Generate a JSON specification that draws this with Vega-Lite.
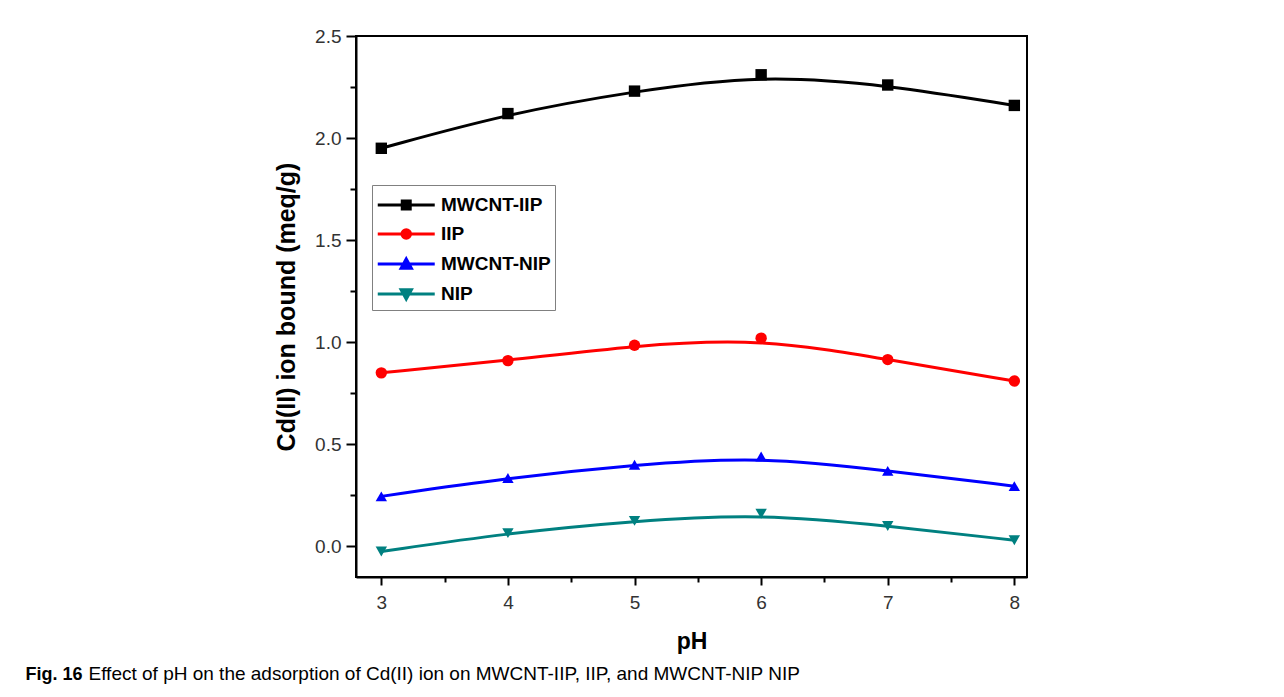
{
  "$schema": "https://vega.github.io/schema/vega-lite/v6.json",
  "autosize": "none",
  "width": 671,
  "height": 541,
  "padding": {"left": 356, "top": 36, "right": 257, "bottom": 120},
  "background": "white",
  "config": {
    "view": {"stroke": "black", "strokeWidth": 2},
    "axis": {
      "labelFont": "Liberation Sans",
      "labelFontSize": 19,
      "labelColor": "#333333",
      "titleFont": "Liberation Sans",
      "titleFontWeight": "bold",
      "titleColor": "black",
      "domainColor": "black",
      "domainWidth": 2,
      "tickColor": "black",
      "tickWidth": 2,
      "grid": false
    }
  },
  "data": {
    "values": [
      {"pH": 3, "value": 1.95, "series": "MWCNT-IIP"},
      {"pH": 4, "value": 2.12, "series": "MWCNT-IIP"},
      {"pH": 5, "value": 2.23, "series": "MWCNT-IIP"},
      {"pH": 6, "value": 2.31, "series": "MWCNT-IIP"},
      {"pH": 7, "value": 2.26, "series": "MWCNT-IIP"},
      {"pH": 8, "value": 2.16, "series": "MWCNT-IIP"},
      {"pH": 3, "value": 0.85, "series": "IIP"},
      {"pH": 4, "value": 0.91, "series": "IIP"},
      {"pH": 5, "value": 0.985, "series": "IIP"},
      {"pH": 6, "value": 1.02, "series": "IIP"},
      {"pH": 7, "value": 0.915, "series": "IIP"},
      {"pH": 8, "value": 0.81, "series": "IIP"},
      {"pH": 3, "value": 0.245, "series": "MWCNT-NIP"},
      {"pH": 4, "value": 0.335, "series": "MWCNT-NIP"},
      {"pH": 5, "value": 0.40, "series": "MWCNT-NIP"},
      {"pH": 6, "value": 0.44, "series": "MWCNT-NIP"},
      {"pH": 7, "value": 0.37, "series": "MWCNT-NIP"},
      {"pH": 8, "value": 0.295, "series": "MWCNT-NIP"},
      {"pH": 3, "value": -0.025, "series": "NIP"},
      {"pH": 4, "value": 0.065, "series": "NIP"},
      {"pH": 5, "value": 0.125, "series": "NIP"},
      {"pH": 6, "value": 0.16, "series": "NIP"},
      {"pH": 7, "value": 0.10, "series": "NIP"},
      {"pH": 8, "value": 0.03, "series": "NIP"}
    ]
  },
  "layer": [
    {
      "mark": {"type": "line", "interpolate": "basis", "strokeWidth": 3},
      "encoding": {
        "x": {
          "field": "pH", "type": "quantitative",
          "scale": {"domain": [2.8, 8.1], "nice": false, "zero": false},
          "axis": {"orient": "bottom", "values": [3, 4, 5, 6, 7, 8], "tickSize": 8, "labelPadding": 8, "title": "pH", "titleFontSize": 23, "titlePadding": 18}
        },
        "y": {
          "field": "value", "type": "quantitative",
          "scale": {"domain": [-0.15, 2.5], "nice": false, "zero": false},
          "axis": {"orient": "left", "values": [0, 0.5, 1, 1.5, 2, 2.5], "format": ".1f", "tickSize": 10, "labelPadding": 5, "title": "Cd(II) ion bound (meq/g)", "titleFontSize": 25, "titlePadding": 15}
        },
        "color": {
          "field": "series", "type": "nominal",
          "scale": {"domain": ["MWCNT-IIP", "IIP", "MWCNT-NIP", "NIP"], "range": ["#000000", "#ff0000", "#0000ff", "#008080"]},
          "legend": {
            "title": null,
            "orient": "none",
            "legendX": 16,
            "legendY": 149,
            "padding": 4,
            "strokeColor": "#808080",
            "fillColor": "white",
            "symbolSize": 812,
            "symbolStrokeWidth": 3,
            "symbolOpacity": 1,
            "labelFont": "Liberation Sans",
            "labelFontWeight": "bold",
            "labelFontSize": 19,
            "labelColor": "black",
            "labelOffset": 33,
            "rowPadding": 3
          }
        }
      }
    },
    {
      "mark": {"type": "point", "filled": true, "opacity": 0},
      "encoding": {
        "x": {"field": "pH", "type": "quantitative", "axis": null},
        "y": {"field": "value", "type": "quantitative", "axis": null},
        "color": {"field": "series", "type": "nominal"},
        "shape": {
          "field": "series", "type": "nominal",
          "scale": {
            "domain": ["MWCNT-IIP", "IIP", "MWCNT-NIP", "NIP"],
            "range": [
              "M-1,0H3M0.72,-0.28H1.28V0.28H0.72Z",
              "M0.7,0A0.3,0.3 0 1,0 1.3,0A0.3,0.3 0 1,0 0.7,0ZM-1,0H3",
              "M1,-0.36L1.36,0.3H0.64ZM-1,0H3",
              "M1,0.36L1.36,-0.3H0.64ZM-1,0H3"
            ]
          }
        }
      }
    },
    {
      "transform": [{"filter": {"field": "series", "equal": "MWCNT-IIP"}}],
      "mark": {"type": "point", "filled": true, "size": 130, "opacity": 1, "shape": "square"},
      "encoding": {
        "x": {"field": "pH", "type": "quantitative", "axis": null},
        "y": {"field": "value", "type": "quantitative", "axis": null},
        "color": {"field": "series", "type": "nominal"}
      }
    },
    {
      "transform": [{"filter": {"field": "series", "equal": "IIP"}}],
      "mark": {"type": "point", "filled": true, "size": 130, "opacity": 1, "shape": "circle"},
      "encoding": {
        "x": {"field": "pH", "type": "quantitative", "axis": null},
        "y": {"field": "value", "type": "quantitative", "axis": null},
        "color": {"field": "series", "type": "nominal"}
      }
    },
    {
      "transform": [{"filter": {"field": "series", "equal": "MWCNT-NIP"}}],
      "mark": {"type": "point", "filled": true, "size": 130, "opacity": 1, "shape": "triangle-up"},
      "encoding": {
        "x": {"field": "pH", "type": "quantitative", "axis": null},
        "y": {"field": "value", "type": "quantitative", "axis": null},
        "color": {"field": "series", "type": "nominal"}
      }
    },
    {
      "transform": [{"filter": {"field": "series", "equal": "NIP"}}],
      "mark": {"type": "point", "filled": true, "size": 130, "opacity": 1, "shape": "triangle-down"},
      "encoding": {
        "x": {"field": "pH", "type": "quantitative", "axis": null},
        "y": {"field": "value", "type": "quantitative", "axis": null},
        "color": {"field": "series", "type": "nominal"}
      }
    },
    {
      "mark": {"type": "point", "opacity": 0},
      "encoding": {
        "x": {
          "field": "pH", "type": "quantitative",
          "axis": {"orient": "bottom", "values": [3.5, 4.5, 5.5, 6.5, 7.5], "tickSize": 5, "labels": false, "domain": false,
                   "title": "Fig. 16", "titleX": -331, "titleY": 102, "titleAlign": "left", "titleBaseline": "alphabetic", "titleFontSize": 18, "titleFont": "Liberation Sans"}
        },
        "y": {
          "field": "value", "type": "quantitative",
          "axis": {"orient": "left", "values": [0.25, 0.75, 1.25, 1.75, 2.25], "tickSize": 6, "labels": false, "domain": false, "title": null}
        }
      }
    },
    {
      "mark": {"type": "point", "opacity": 0},
      "encoding": {
        "x": {
          "field": "pH", "type": "quantitative",
          "axis": {"orient": "bottom", "ticks": false, "labels": false, "domain": false,
                   "title": "Effect of pH on the adsorption of Cd(II) ion on MWCNT-IIP, IIP, and MWCNT-NIP NIP", "titleX": -268, "titleY": 102, "titleAlign": "left", "titleBaseline": "alphabetic", "titleFontSize": 19, "titleFontWeight": "normal", "titleFont": "Liberation Sans", "titleLimit": 1000}
        },
        "y": {"field": "value", "type": "quantitative", "axis": null}
      }
    }
  ],
  "resolve": {"axis": {"x": "independent", "y": "independent"}}
}
